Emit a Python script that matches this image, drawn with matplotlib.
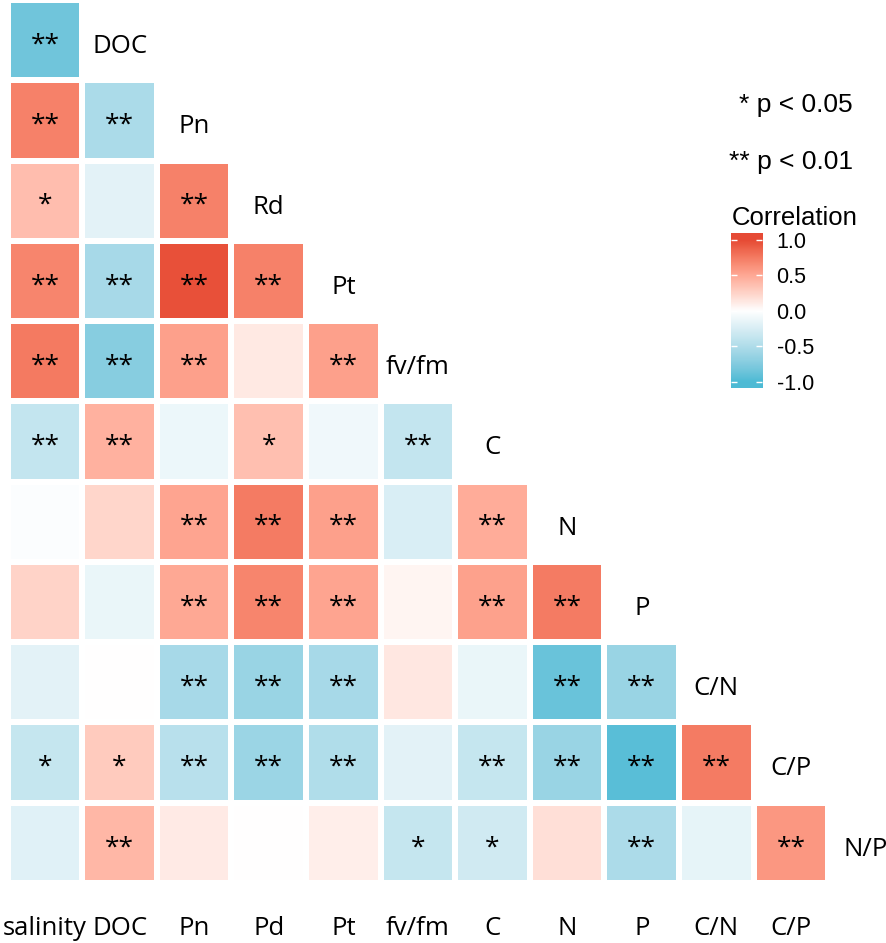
import numpy as np
import matplotlib
matplotlib.use("Agg")
import matplotlib.pyplot as plt
from matplotlib.colors import ListedColormap, Normalize
from matplotlib.transforms import blended_transform_factory

# ---------------- data ----------------
col_labels = ["salinity", "DOC", "Pn", "Pd", "Pt", "fv/fm", "C", "N", "P", "C/N", "C/P"]
row_labels = ["DOC", "Pn", "Rd", "Pt", "fv/fm", "C", "N", "P", "C/N", "C/P", "N/P"]

r_DOC  = [-0.85]
r_Pn   = [0.72, -0.53]
r_Rd   = [0.38, -0.18, 0.72]
r_Pt   = [0.70, -0.55, 0.97, 0.72]
r_fvfm = [0.76, -0.73, 0.55, 0.13, 0.55]
r_C    = [-0.38, 0.45, -0.12, 0.37, -0.10, -0.38]
r_N    = [-0.03, 0.24, 0.53, 0.75, 0.55, -0.25, 0.48]
r_P    = [0.25, -0.14, 0.50, 0.70, 0.53, 0.06, 0.54, 0.75]
r_CN   = [-0.18, 0.00, -0.55, -0.63, -0.55, 0.14, -0.14, -0.88, -0.63]
r_CP   = [-0.37, 0.30, -0.45, -0.62, -0.50, -0.18, -0.37, -0.63, -0.95, 0.75]
r_NP   = [-0.20, 0.42, 0.12, 0.00, 0.10, -0.37, -0.30, 0.18, -0.52, -0.16, 0.60]

s_DOC  = ["**"]
s_Pn   = ["**", "**"]
s_Rd   = ["*", "", "**"]
s_Pt   = ["**", "**", "**", "**"]
s_fvfm = ["**", "**", "**", "", "**"]
s_C    = ["**", "**", "", "*", "", "**"]
s_N    = ["", "", "**", "**", "**", "", "**"]
s_P    = ["", "", "**", "**", "**", "", "**", "**"]
s_CN   = ["", "", "**", "**", "**", "", "", "**", "**"]
s_CP   = ["*", "*", "**", "**", "**", "", "**", "**", "**", "**"]
s_NP   = ["", "**", "", "", "", "*", "*", "", "**", "", "**"]

corr_rows = [r_DOC, r_Pn, r_Rd, r_Pt, r_fvfm, r_C, r_N, r_P, r_CN, r_CP, r_NP]
sig_rows = [s_DOC, s_Pn, s_Rd, s_Pt, s_fvfm, s_C, s_N, s_P, s_CN, s_CP, s_NP]

cbar_ticks = [-1.0, -0.5, 0.0, 0.5, 1.0]
cbar_ticklabels = ["-1.0", "-0.5", "0.0", "0.5", "1.0"]

# ---------------- colormap (Lab interpolation like ggplot2) ----------------
M = np.array([[0.4124, 0.3576, 0.1805], [0.2126, 0.7152, 0.0722], [0.0193, 0.1192, 0.9505]])
Minv = np.linalg.inv(M)
WN = np.array([0.95047, 1.0, 1.08883])

def hex2rgb(h):
    h = h.lstrip("#")
    return np.array([int(h[i:i + 2], 16) for i in (0, 2, 4)]) / 255.0

def rgb2lab(c):
    lin = np.where(c <= 0.04045, c / 12.92, ((c + 0.055) / 1.055) ** 2.4)
    xyz = M @ lin / WN
    d = 6 / 29
    f = np.where(xyz > d ** 3, np.cbrt(xyz), xyz / (3 * d * d) + 4 / 29)
    return np.array([116 * f[1] - 16, 500 * (f[0] - f[1]), 200 * (f[1] - f[2])])

def lab2rgb(lab):
    L, a, b = lab
    fy = (L + 16) / 116
    fx = fy + a / 500
    fz = fy - b / 200
    d = 6 / 29
    f = np.array([fx, fy, fz])
    xyz = np.where(f > d, f ** 3, 3 * d * d * (f - 4 / 29)) * WN
    lin = Minv @ xyz
    lin = np.clip(lin, 0, 1)
    c = np.where(lin <= 0.0031308, 12.92 * lin, 1.055 * lin ** (1 / 2.4) - 0.055)
    return np.clip(c, 0, 1)

lab_blue = rgb2lab(hex2rgb("#4DBBD5"))
lab_white = rgb2lab(hex2rgb("#FFFFFF"))
lab_red = rgb2lab(hex2rgb("#E64B35"))
cols = []
for v in np.linspace(-1, 1, 256):
    if v < 0:
        lab = lab_white + (-v) * (lab_blue - lab_white)
    else:
        lab = lab_white + v * (lab_red - lab_white)
    cols.append(lab2rgb(lab))
cmap = ListedColormap(cols)
norm = Normalize(-1, 1)

# ---------------- matrix ----------------
n = len(row_labels)
mat = np.full((n, len(col_labels)), np.nan)
for i, row in enumerate(corr_rows):
    mat[i, :len(row)] = row
mat = np.ma.masked_invalid(mat)

W, H = 886, 943
fig = plt.figure(figsize=(W / 100, H / 100), dpi=100)
fig.patch.set_facecolor("white")

left_px, right_px, top_px, bot_px = 7.7, 828.3, 0.0, 883.0
ax = fig.add_axes([left_px / W, 1 - bot_px / H, (right_px - left_px) / W, (bot_px - top_px) / H])
ax.pcolormesh(np.arange(len(col_labels) + 1), np.arange(n + 1), mat, cmap=cmap, norm=norm,
              edgecolors="white", linewidth=2.9)
ax.set_xlim(0, len(col_labels))
ax.set_ylim(n, 0)
ax.set_axis_off()

lab_font = "Open Sans"
for i, srow in enumerate(sig_rows):
    for j, s in enumerate(srow):
        if s:
            ax.text(j + 0.5, i + 0.5 + 0.14, s, ha="center", va="baseline",
                    fontsize=19, family=lab_font, color="black")
    # diagonal label
    ax.text(i + 1.5, i + 0.5 + 0.16, row_labels[i], ha="center", va="baseline",
            fontsize=18.5, family=lab_font, clip_on=False)

tr = blended_transform_factory(ax.transData, fig.transFigure)
for j, lab in enumerate(col_labels):
    ax.text(j + 0.5, 1 - 935 / H, lab, ha="center", va="baseline", transform=tr,
            fontsize=18.5, family=lab_font, clip_on=False)

# ---------------- legend texts ----------------
leg_font = "Liberation Sans"
fig.text(853 / W, 1 - 112 / H, "* p < 0.05", ha="right", va="baseline", fontsize=19, family=leg_font)
fig.text(853 / W, 1 - 169 / H, "** p < 0.01", ha="right", va="baseline", fontsize=19, family=leg_font)
fig.text(732 / W, 1 - 225 / H, "Correlation", ha="left", va="baseline", fontsize=18.5, family=leg_font)

# ---------------- colorbar ----------------
cb_lo, cb_hi = -1.09, 1.10
cax = fig.add_axes([731 / W, 1 - 388 / H, 31 / W, 155 / H])
grad = np.linspace(cb_lo, cb_hi, 300).reshape(-1, 1)
cax.imshow(grad, extent=[0, 1, cb_lo, cb_hi], origin="lower", aspect="auto", cmap=cmap, norm=norm)
cax.set_xlim(0, 1)
cax.set_ylim(cb_lo, cb_hi)
for sp in cax.spines.values():
    sp.set_visible(False)
cax.set_xticks([])
cax.set_yticks(cbar_ticks)
cax.set_yticklabels(cbar_ticklabels, family=leg_font, fontsize=15.5)
cax.tick_params(axis="y", direction="in", length=4.3, width=1.0, color="white",
                left=True, right=True, labelleft=False, labelright=True, pad=10.5)

fig.savefig("out.png", dpi=100, facecolor="white")
